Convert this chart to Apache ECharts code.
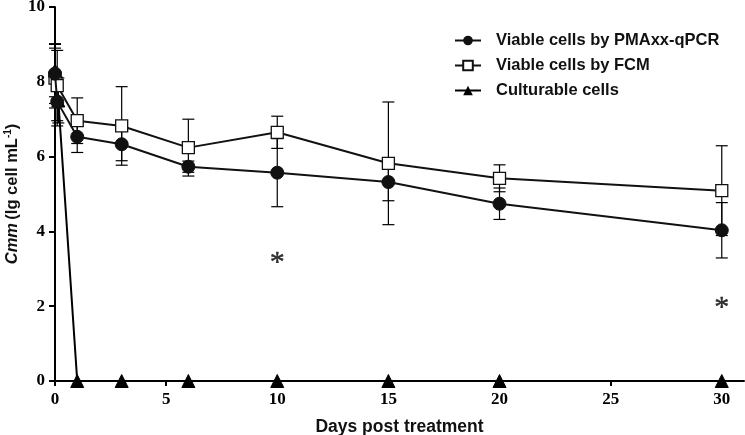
<!DOCTYPE html>
<html>
<head>
<meta charset="utf-8">
<script src="https://cdn.jsdelivr.net/npm/echarts@6/dist/echarts.min.js"></script>
<style>html,body{margin:0;padding:0;background:#fff}#c{width:745px;height:435px}</style>
</head>
<body>
<div id="c"></div>
<script>
// ---- data ----
const pmaDays = [0, 0.1, 1, 3, 6, 10, 15, 20, 30];
const pmaMean = [8.22, 7.47, 6.53, 6.33, 5.73, 5.57, 5.32, 4.74, 4.03];
const pmaSD   = [0.8, 0.65, 0.42, 0.44, 0.15, 0.91, 0.5, 0.42, 0.74];

const fcmDays = [0, 0.1, 1, 3, 6, 10, 15, 20, 30];
const fcmMean = [8.1, 7.9, 6.96, 6.82, 6.24, 6.65, 5.82, 5.42, 5.09];
const fcmSD   = [0.8, 0.94, 0.61, 1.05, 0.76, 0.43, 1.64, 0.36, 1.2];

const cultDays = [0, 0.15, 1, 3, 6, 10, 15, 20, 30];
const cultMean = [8.3, 7.5, 0, 0, 0, 0, 0, 0, 0];
const cultSD   = [0.7, 0.6, 0, 0, 0, 0, 0, 0, 0];

const starDays = [10, 30];
const starY = [3.3, 2.1];

const xTicks = [0, 5, 10, 15, 20, 25, 30];
const yTicks = [0, 2, 4, 6, 8, 10];

const seriesNames = ['Viable cells by PMAxx-qPCR', 'Viable cells by FCM', 'Culturable cells'];

// ---- build ----
const pts = (xs, ys) => xs.map((x, i) => [x, ys[i]]);
const errs = (xs, ys, sd) => xs.map((x, i) => [x, ys[i] - sd[i], ys[i] + sd[i]]).filter(d => d[2] > d[1]);

function errRender(params, api) {
  const x = api.value(0);
  const lo = api.coord([x, api.value(1)]);
  const hi = api.coord([x, api.value(2)]);
  const w = 6;
  const st = { stroke: '#000', lineWidth: 1.2 };
  return {
    type: 'group',
    children: [
      { type: 'line', shape: { x1: lo[0], y1: lo[1], x2: hi[0], y2: hi[1] }, style: st },
      { type: 'line', shape: { x1: lo[0] - w, y1: lo[1], x2: lo[0] + w, y2: lo[1] }, style: st },
      { type: 'line', shape: { x1: hi[0] - w, y1: hi[1], x2: hi[0] + w, y2: hi[1] }, style: st }
    ]
  };
}

const tickFont = { fontFamily: 'Liberation Serif', fontWeight: 'bold', fontSize: 17, color: '#000' };
const sansBold = 'Liberation Sans';

const chart = echarts.init(document.getElementById('c'));
chart.setOption({
  animation: false,
  backgroundColor: '#fff',
  grid: { left: 55, right: 1, top: 7, bottom: 54, containLabel: false, outerBoundsMode: 'none' },
  legend: {
    orient: 'vertical',
    left: 449,
    top: 27,
    itemWidth: 26,
    itemHeight: 12,
    itemGap: 8,
    data: seriesNames,
    textStyle: { fontFamily: sansBold, fontWeight: 'bold', fontSize: 16.5, color: '#111', padding: [0, 0, 0, 10] }
  },
  xAxis: {
    type: 'value',
    min: 0,
    max: 31,
    splitLine: { show: false },
    axisLine: { lineStyle: { color: '#000', width: 2 } },
    axisTick: { length: 5, lineStyle: { color: '#000', width: 2 }, customValues: xTicks },
    axisLabel: Object.assign({ margin: 10, customValues: xTicks }, tickFont),
    name: 'Days post treatment',
    nameLocation: 'middle',
    nameGap: 37,
    nameMoveOverlap: false,
    nameTextStyle: { fontFamily: sansBold, fontWeight: 'bold', fontSize: 17.5, color: '#111' }
  },
  yAxis: {
    type: 'value',
    min: 0,
    max: 10,
    interval: 2,
    splitLine: { show: false },
    axisLine: { show: true, lineStyle: { color: '#000', width: 2 } },
    axisTick: { show: true, length: 6, lineStyle: { color: '#000', width: 2 }, customValues: yTicks },
    axisLabel: Object.assign({ margin: 10, customValues: yTicks }, tickFont),
    name: '{i|Cmm} {b|(lg cell mL}{s|-1}{b|)}',
    nameLocation: 'middle',
    nameRotate: 90,
    nameGap: 33,
    nameMoveOverlap: false,
    nameTextStyle: {
      rich: {
        i: { fontFamily: sansBold, fontWeight: 'bold', fontStyle: 'italic', fontSize: 16.5, color: '#111' },
        b: { fontFamily: sansBold, fontWeight: 'bold', fontSize: 16.5, color: '#111' },
        s: { fontFamily: sansBold, fontWeight: 'bold', fontSize: 10, color: '#111', padding: [0, 0, 9, 0] }
      }
    }
  },
  series: [
    { type: 'custom', name: 'errPMA', renderItem: errRender, data: errs(pmaDays, pmaMean, pmaSD), encode: { x: 0, y: [1, 2] }, z: 1, silent: true },
    { type: 'custom', name: 'errFCM', renderItem: errRender, data: errs(fcmDays, fcmMean, fcmSD), encode: { x: 0, y: [1, 2] }, z: 1, silent: true },
    { type: 'custom', name: 'errCult', renderItem: errRender, data: errs(cultDays, cultMean, cultSD), encode: { x: 0, y: [1, 2] }, z: 1, silent: true },
    {
      type: 'line', name: seriesNames[2], data: pts(cultDays, cultMean), clip: false, z: 3,
      symbol: 'triangle', symbolSize: 13,
      lineStyle: { color: '#000', width: 2 },
      itemStyle: { color: '#000', borderColor: '#000' }
    },
    {
      type: 'line', name: seriesNames[1], data: pts(fcmDays, fcmMean), clip: false, z: 4,
      symbol: 'rect', symbolSize: 12,
      lineStyle: { color: '#111', width: 2 },
      itemStyle: { color: '#fff', borderColor: '#111', borderWidth: 1.3 }
    },
    {
      type: 'line', name: seriesNames[0], data: pts(pmaDays, pmaMean), clip: false, z: 5,
      symbol: 'circle', symbolSize: 13,
      lineStyle: { color: '#111', width: 2 },
      itemStyle: { color: '#111', borderColor: '#111' }
    },
    {
      type: 'scatter', name: 'stars', data: pts(starDays, starY), symbolSize: 0, silent: true,
      label: { show: true, position: 'inside', formatter: '*', offset: [0, 6],
        fontFamily: 'Liberation Serif', fontSize: 30, color: '#000', textBorderColor: '#000', textBorderWidth: 0.4 }
    }
  ]
});
</script>
</body>
</html>
